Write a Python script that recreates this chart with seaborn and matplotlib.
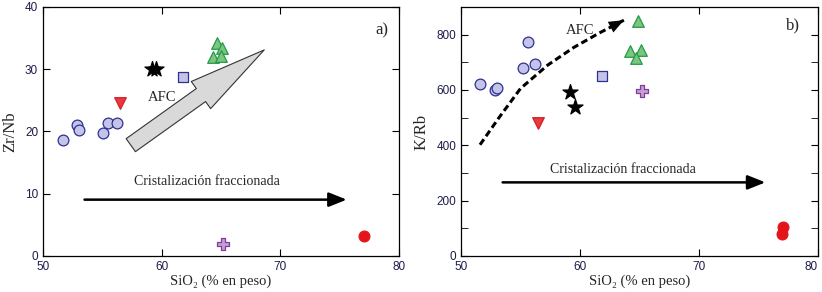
import matplotlib
matplotlib.use('Agg')
import matplotlib.pyplot as plt
import seaborn as sns
from matplotlib.ticker import MultipleLocator, FuncFormatter

# --- panel a data (SiO2 vs Zr/Nb)
a_circ_x = [51.7, 52.9, 53.0, 55.1, 55.5, 56.2]
a_circ_y = [18.7, 21.1, 20.3, 19.7, 21.3, 21.4]
a_tri_dn_x = [56.5]
a_tri_dn_y = [24.5]
a_star_x = [59.2, 59.5]
a_star_y = [30.1, 30.0]
a_sq_x = [61.8]
a_sq_y = [28.8]
a_tri_up_x = [64.7, 65.05, 64.3, 65.0]
a_tri_up_y = [34.2, 33.4, 32.0, 32.1]
a_plus_x = [65.15]
a_plus_y = [1.9]
a_red_x = [77.05]
a_red_y = [3.2]

# --- panel b data (SiO2 vs K/Rb)
b_circ_x = [51.6, 52.9, 53.0, 55.2, 55.6, 56.2]
b_circ_y = [621, 598, 606, 679, 774, 694]
b_tri_dn_x = [56.5]
b_tri_dn_y = [480]
b_star_x = [59.2, 59.6]
b_star_y = [592, 539]
b_sq_x = [61.9]
b_sq_y = [649]
b_tri_up_x = [64.9, 64.2, 65.1, 64.7]
b_tri_up_y = [848, 740, 746, 714]
b_plus_x = [65.2]
b_plus_y = [596]
b_red_x = [77.1, 77.0]
b_red_y = [103, 78]

# AFC dashed trend in b
afc_x = [51.6, 53.2, 55.0, 57.3, 59.5, 61.6, 63.7]
afc_y = [402, 500, 605, 690, 754, 805, 852]

sns.set_style('ticks')
plt.rcParams['font.family'] = ['Liberation Serif', 'DejaVu Serif']
plt.rcParams['xtick.direction'] = 'in'
plt.rcParams['ytick.direction'] = 'in'

styles = [
    ('circ', 'o', '#c4c4e8', '#2e3192', 60),
    ('tri_dn', 'v', '#e8393c', '#d42027', 70),
    ('star', '*', 'black', 'black', 130),
    ('sq', 's', '#c4c4e8', '#2e3192', 60),
    ('tri_up', '^', '#7cc47f', '#239b48', 70),
    ('plus', 'P', '#c79bd4', '#7f3f98', 70),
    ('red', 'o', '#e3151a', '#e3151a', 60),
]

fig = plt.figure(figsize=(8.22, 2.92), dpi=100)
ax_a = fig.add_axes([0.0523, 0.1233, 0.433, 0.853])
ax_b = fig.add_axes([0.5608, 0.1233, 0.434, 0.853])

for name, ax in [('a', ax_a), ('b', ax_b)]:
    for key, mk, fc, ec, s in styles:
        xs = globals()[f'{name}_{key}_x']
        ys = globals()[f'{name}_{key}_y']
        sns.scatterplot(x=xs, y=ys, ax=ax, marker=mk, s=s, color=fc,
                        edgecolor=ec, linewidth=0.9, zorder=3)

head = dict(arrowstyle='-|>,head_length=0.9,head_width=0.36',
            mutation_scale=12, fc='black', ec='black', shrinkA=0, shrinkB=0)

# --- panel a decorations
ax_a.set_xlim(50, 80)
ax_a.set_ylim(0, 40)
ax_a.xaxis.set_major_locator(MultipleLocator(10))
ax_a.yaxis.set_major_locator(MultipleLocator(10))
ax_a.annotate('', xy=(68.65, 33.1), xytext=(57.4, 17.8),
              arrowprops=dict(arrowstyle='simple,head_length=5.6,head_width=2.4,tail_width=1.15',
                              mutation_scale=10, fc='#d9d9d9', ec='#333333', lw=0.8,
                              shrinkA=0, shrinkB=0), zorder=2)
ax_a.text(60.05, 25.4, 'AFC', ha='center', va='center', fontsize=10.5)
ax_a.annotate('', xy=(75.6, 9.05), xytext=(53.5, 9.05), arrowprops=dict(head, lw=1.8))
ax_a.text(63.8, 12.0, 'Cristalización fraccionada', ha='center', va='center', fontsize=10)
ax_a.text(78.6, 36.3, 'a)', ha='center', va='center', fontsize=12)
ax_a.set_ylabel('Zr/Nb', fontsize=12, labelpad=5)

# --- panel b decorations
ax_b.set_xlim(50, 80)
ax_b.set_ylim(0, 900)
ax_b.xaxis.set_major_locator(MultipleLocator(10))
ax_b.yaxis.set_major_locator(MultipleLocator(200))
ax_b.yaxis.set_minor_locator(MultipleLocator(100))
ax_b.plot(afc_x, afc_y, color='black', ls=(0, (2.2, 1.2)), lw=2.2, zorder=2)
ax_b.annotate('', xy=(afc_x[-1], afc_y[-1]), xytext=(afc_x[-2], afc_y[-2]),
              arrowprops=dict(head, lw=0))
ax_b.text(60.0, 814, 'AFC', ha='center', va='center', fontsize=10.5)
ax_b.annotate('', xy=(75.6, 266), xytext=(53.5, 266), arrowprops=dict(head, lw=1.8))
ax_b.text(63.6, 314, 'Cristalización fraccionada', ha='center', va='center', fontsize=10)
ax_b.text(77.9, 834, 'b)', ha='center', va='center', fontsize=12)
ax_b.set_ylabel('K/Rb', fontsize=12, labelpad=5)

tick_font = ['Liberation Sans', 'DejaVu Sans']
for ax in (ax_a, ax_b):
    ax.set_xlabel('SiO₂ (% en peso)', fontsize=10.5, labelpad=1)
    ax.tick_params(which='both', top=True, right=True, labelsize=8.5,
                   color='black', labelcolor='#1c1c4a', length=5)
    for lab in ax.get_xticklabels() + ax.get_yticklabels():
        lab.set_family(tick_font)
    for sp in ax.spines.values():
        sp.set_color('black')
        sp.set_linewidth(0.9)

# last x tick label of panel b sits flush with the figure edge
ax_b.xaxis.set_major_formatter(FuncFormatter(lambda v, p: '' if v >= 80 else f'{v:.0f}'))
ax_b.text(80, -0.02, '80', transform=ax_b.get_xaxis_transform(), ha='right', va='top',
          fontsize=8.5, color='#1c1c4a', family=tick_font)

fig.savefig('out.png', dpi=100)
